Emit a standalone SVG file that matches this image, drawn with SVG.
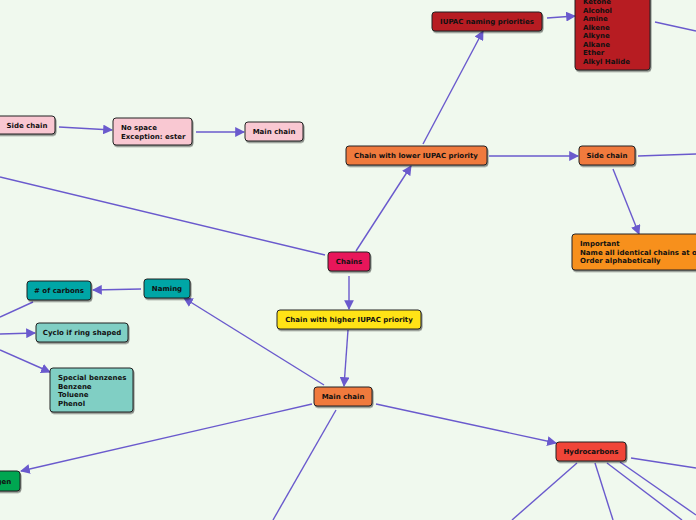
<svg xmlns="http://www.w3.org/2000/svg" width="696" height="520" viewBox="0 0 696 520">
<defs>
<marker id="a" viewBox="0 0 10 10" refX="9" refY="5" markerWidth="7" markerHeight="7" orient="auto"><path d="M0,0L10,5L0,10z" fill="#6a5acd"/></marker>
<filter id="s" x="-10%" y="-10%" width="130%" height="140%"><feDropShadow dx="1" dy="1.5" stdDeviation="0.6" flood-color="#000" flood-opacity="0.45"/></filter>
</defs>
<style>
.n rect{stroke:#222;stroke-width:1;filter:url(#s)}
text{font-family:"DejaVu Sans",Verdana,sans-serif;font-weight:bold;font-size:7px;fill:#111}
.c line{stroke:#6a5acd;stroke-width:1.4}
.c line.m{marker-end:url(#a)}
</style>
<rect width="696" height="520" fill="#f0f9ee"/>
<g class="c">
<line class="m" x1="356" y1="251" x2="411" y2="166"/>
<line class="m" x1="423" y1="144" x2="483" y2="31"/>
<line class="m" x1="547" y1="18" x2="575" y2="16"/>
<line x1="655" y1="22" x2="696" y2="31"/>
<line class="m" x1="489" y1="156" x2="578" y2="156"/>
<line x1="638" y1="156" x2="696" y2="154"/>
<line class="m" x1="613" y1="169" x2="639" y2="234"/>
<line class="m" x1="59" y1="127" x2="112" y2="130"/>
<line class="m" x1="196" y1="132" x2="244" y2="132"/>
<line x1="325" y1="255" x2="0" y2="177"/>
<line class="m" x1="349" y1="276" x2="349" y2="309"/>
<line class="m" x1="348" y1="330" x2="344" y2="386"/>
<line class="m" x1="324" y1="385" x2="184" y2="298"/>
<line class="m" x1="141" y1="289" x2="93" y2="290"/>
<line x1="33" y1="302" x2="0" y2="317"/>
<line class="m" x1="0" y1="334" x2="35" y2="333"/>
<line class="m" x1="0" y1="350" x2="50" y2="372"/>
<line class="m" x1="312" y1="404" x2="21" y2="471"/>
<line x1="336" y1="410" x2="273" y2="520"/>
<line class="m" x1="376" y1="404" x2="556" y2="443"/>
<line x1="577" y1="463" x2="512" y2="520"/>
<line x1="595" y1="463" x2="613" y2="520"/>
<line x1="607" y1="463" x2="682" y2="520"/>
<line x1="620" y1="462" x2="696" y2="515"/>
<line x1="631" y1="458" x2="696" y2="468"/>
</g>
<g class="n" id="iupac"><rect x="432" y="12" width="110" height="19" rx="3" fill="#b71c24"/><text x="487" y="24" text-anchor="middle">IUPAC naming priorities</text></g>
<g class="n" id="list"><rect x="575" y="-6" width="75" height="76" rx="3" fill="#b71c24"/><text x="583" y="4">Ketone</text><text x="583" y="12.5">Alcohol</text><text x="583" y="21">Amine</text><text x="583" y="29.5">Alkene</text><text x="583" y="38">Alkyne</text><text x="583" y="46.5">Alkane</text><text x="583" y="55">Ether</text><text x="583" y="64">Alkyl Halide</text></g>
<g class="n" id="sideL"><rect x="-5" y="116" width="60" height="18" rx="3" fill="#f9c8d2"/><text x="27" y="128" text-anchor="middle">Side chain</text></g>
<g class="n" id="nospace"><rect x="113" y="118" width="79" height="27" rx="3" fill="#f9c8d2"/><text x="121" y="130">No space</text><text x="121" y="139">Exception: ester</text></g>
<g class="n" id="mainTop"><rect x="245" y="122" width="58" height="19" rx="3" fill="#f9c8d2"/><text x="274" y="134" text-anchor="middle">Main chain</text></g>
<g class="n" id="lower"><rect x="346" y="146" width="141" height="19" rx="3" fill="#f07a3e"/><text x="416" y="158" text-anchor="middle">Chain with lower IUPAC priority</text></g>
<g class="n" id="sideR"><rect x="579" y="146" width="56" height="19" rx="3" fill="#f07a3e"/><text x="607" y="158" text-anchor="middle">Side chain</text></g>
<g class="n" id="important"><rect x="572" y="234" width="134" height="36" rx="3" fill="#f7901e"/><text x="580" y="246">Important</text><text x="580" y="254.5">Name all identical chains at once</text><text x="580" y="263">Order alphabetically</text></g>
<g class="n" id="chains"><rect x="328" y="252" width="42" height="19" rx="3" fill="#e8195a"/><text x="349" y="264" text-anchor="middle">Chains</text></g>
<g class="n" id="naming"><rect x="144" y="279" width="46" height="19" rx="3" fill="#00a6a6"/><text x="167" y="291" text-anchor="middle">Naming</text></g>
<g class="n" id="carbons"><rect x="27" y="281" width="64" height="19" rx="3" fill="#00a6a6"/><text x="59" y="293" text-anchor="middle"># of carbons</text></g>
<g class="n" id="cyclo"><rect x="36" y="323" width="92" height="19" rx="3" fill="#80cfc4"/><text x="82" y="335" text-anchor="middle">Cyclo if ring shaped</text></g>
<g class="n" id="benz"><rect x="50" y="368" width="83" height="44" rx="3" fill="#80cfc4"/><text x="58" y="380">Special benzenes</text><text x="58" y="388.5">Benzene</text><text x="58" y="397">Toluene</text><text x="58" y="405.5">Phenol</text></g>
<g class="n" id="higher"><rect x="277" y="310" width="144" height="19" rx="3" fill="#ffe312"/><text x="349" y="322" text-anchor="middle">Chain with higher IUPAC priority</text></g>
<g class="n" id="mainC"><rect x="314" y="387" width="58" height="19" rx="3" fill="#f07a3e"/><text x="343" y="399" text-anchor="middle">Main chain</text></g>
<g class="n" id="hydro"><rect x="556" y="442" width="70" height="19" rx="3" fill="#f04438"/><text x="591" y="454" text-anchor="middle">Hydrocarbons</text></g>
<g class="n" id="gen"><rect x="-30" y="471" width="50" height="20" rx="3" fill="#00a651"/><text x="-5" y="484" text-anchor="middle">Halogen</text></g>
</svg>
